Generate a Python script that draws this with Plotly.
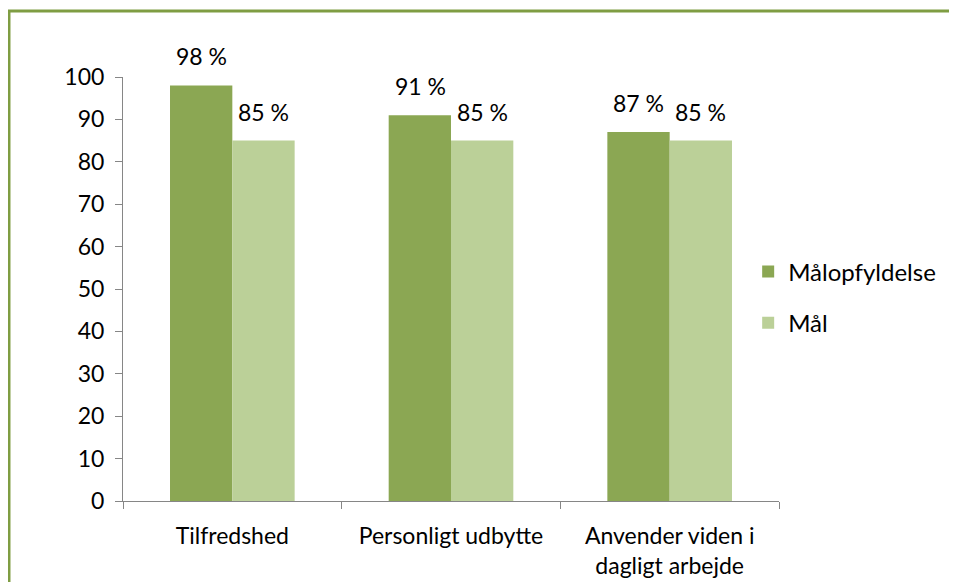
import plotly.graph_objects as go

categories = ["Tilfredshed", "Personligt udbytte", "Anvender viden i<br>dagligt arbejde"]
malopfyldelse = [98, 91, 87]
maal = [85, 85, 85]
series_names = ["Målopfyldelse", "Mål"]
y_ticks = [0, 10, 20, 30, 40, 50, 60, 70, 80, 90, 100]

FONT = "Lato, Carlito, 'Open Sans', sans-serif"
DARK = "#8BA753"
LIGHT = "#BBD098"
AXIS = "#868686"

fig = go.Figure()
for name, vals, col in [(series_names[0], malopfyldelse, DARK), (series_names[1], maal, LIGHT)]:
    fig.add_trace(go.Bar(
        x=categories, y=vals, name=name, marker=dict(color=col, line=dict(width=0)),
        legendgroup=name,
    ))

annotations = []
for vals, shift in [(malopfyldelse, -31), (maal, 31)]:
    for c, v in zip(categories, vals):
        annotations.append(dict(x=c, y=v, text=f"{v} %", showarrow=False,
                                xanchor="center", yanchor="bottom", xshift=shift, yshift=13,
                                font=dict(family=FONT, size=23, color="#000000")))

fig.update_layout(
    width=957, height=582,
    margin=dict(l=115, r=186, t=69, b=89),
    paper_bgcolor="white", plot_bgcolor="white",
    barmode="group", bargap=0.43, bargroupgap=0,
    font=dict(family=FONT, size=23, color="#000000"),
    showlegend=True,
    legend=dict(x=0.953, y=0.48, xanchor="left", yanchor="middle",
                font=dict(family=FONT, size=24), traceorder="grouped",
                tracegroupgap=17, bgcolor="rgba(0,0,0,0)"),
    xaxis=dict(type="category", showline=True, linecolor=AXIS, linewidth=1,
               ticks="outside", tickson="boundaries", ticklen=7, tickcolor=AXIS,
               showgrid=False, tickfont=dict(family=FONT, size=23), ticklabelstandoff=14),
    yaxis=dict(range=[0, 100], tickvals=y_ticks, showline=True, linecolor=AXIS,
               linewidth=1, ticks="outside", ticklen=7, tickcolor=AXIS,
               showgrid=False, zeroline=False, tickfont=dict(family=FONT, size=23),
               ticklabelstandoff=6),
    annotations=annotations,
    shapes=[dict(type="rect", xref="paper", yref="paper",
                 x0=-0.1738, x1=1.35, y0=-0.3, y1=1.1557,
                 line=dict(color="#7F9D43", width=3), fillcolor="rgba(0,0,0,0)", layer="below")],
)

fig.write_html("out.html")
